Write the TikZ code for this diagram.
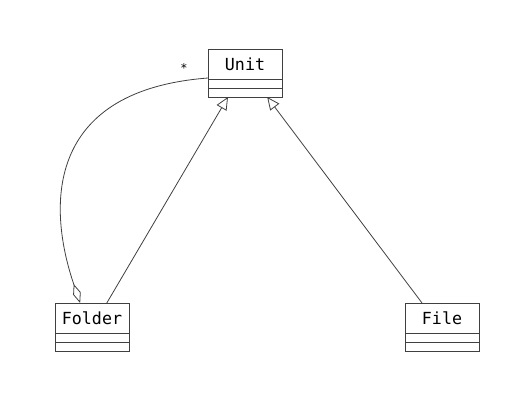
\documentclass[tikz,border=0pt]{standalone}
\usepackage{fontspec}
\setmonofont{DejaVu Sans Mono}
\usetikzlibrary{arrows.meta,positioning,calc}
\begin{document}
\begin{tikzpicture}[x=0.75pt,y=-0.75pt,
  umlline/.style={draw=black!75,line width=0.6pt},
  hdr/.style={umlline,rectangle,minimum width=55.5pt,minimum height=22.5pt,inner sep=0pt,outer sep=0pt,font=\ttfamily\fontsize{12.5}{15}\selectfont},
  comp/.style={umlline,rectangle,minimum width=55.5pt,minimum height=6.75pt,inner sep=0pt,outer sep=0pt},
  inherit/.style={umlline,-{Triangle[open,length=9.5pt,width=8.5pt]}},
  aggr/.style={umlline,-{Diamond[open,length=15pt,width=6pt]}},
  mult/.style={font=\ttfamily\fontsize{9}{10}\selectfont,inner sep=0pt}]
\useasboundingbox (0,0) rectangle (529,417);
% Unit
\node[hdr] (unit) at (245,64) {Unit};
\node[comp,below=0pt of unit] (unitA) {};
\node[comp,below=0pt of unitA] (unitB) {};
% Folder
\node[hdr] (folder) at (92,318) {Folder};
\node[comp,below=0pt of folder] (folderA) {};
\node[comp,below=0pt of folderA] (folderB) {};
% File
\node[hdr] (file) at (442,318) {File};
\node[comp,below=0pt of file] (fileA) {};
\node[comp,below=0pt of fileA] (fileB) {};
% connection points
\coordinate (uF) at ($(unitB.south west)!0.27!(unitB.south east)$);
\coordinate (uR) at ($(unitB.south west)!0.80!(unitB.south east)$);
\coordinate (fU) at ($(folder.north west)!0.70!(folder.north east)$);
\coordinate (fiU) at ($(file.north west)!0.23!(file.north east)$);
\coordinate (fD) at ($(folder.north west)!0.34!(folder.north east)$);
\coordinate (uL) at ($(unit.south west)+(0,-1)$);
% generalisations
\draw[inherit] (fU) -- (uF);
\draw[inherit] (fiU) -- (uR);
% aggregation
\draw[aggr] (uL) .. controls (50,90) and (45,200) .. (fD);
\node[mult] (star) at (184,68) {*};
\end{tikzpicture}
\end{document}
